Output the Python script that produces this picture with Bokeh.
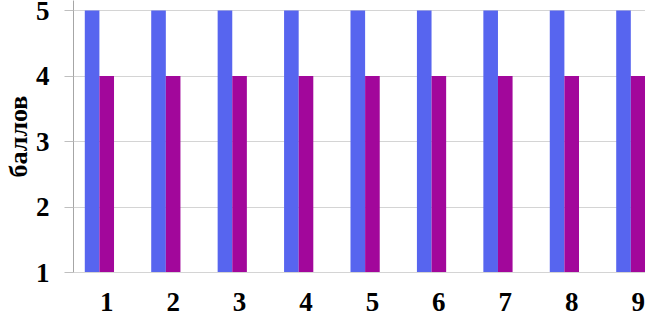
from bokeh.plotting import figure
from bokeh.models import ColumnDataSource, FixedTicker, Range1d
from bokeh.transform import dodge
from bokeh.embed import file_html
from bokeh.resources import INLINE

# data
categories = [1, 2, 3, 4, 5, 6, 7, 8, 9]
series_a = [5, 5, 5, 5, 5, 5, 5, 5, 5]
series_b = [4, 4, 4, 4, 4, 4, 4, 4, 4]
y_ticks = [1, 2, 3, 4, 5]
y_label = "баллов"

BLUE = "#5765EF"
PURPLE = "#A2079B"
FONT = "Liberation Serif"

src = ColumnDataSource(dict(x=categories, a=series_a, b=series_b))

p = figure(width=645, height=317, output_backend="svg", toolbar_location=None,
           x_range=Range1d(0.5, 9.111), y_range=Range1d(1, 5.153),
           min_border_left=72, min_border_right=0, min_border_top=0,
           min_border_bottom=45)
p.outline_line_color = None
p.background_fill_color = "white"
p.border_fill_color = "white"

bw = 0.22
p.vbar(x=dodge("x", -0.22, range=p.x_range), top="a", bottom=1, width=bw,
       source=src, fill_color=BLUE, line_color=None)
p.vbar(x=dodge("x", 0.0, range=p.x_range), top="b", bottom=1, width=bw,
       source=src, fill_color=PURPLE, line_color=None)

# grid
p.xgrid.grid_line_color = None
p.ygrid.grid_line_color = "#D4D4D4"
p.ygrid.grid_line_width = 1
p.ygrid.ticker = FixedTicker(ticks=y_ticks)

# y axis
ya = p.yaxis[0]
ya.ticker = FixedTicker(ticks=y_ticks)
ya.axis_line_color = "#A6A6A6"
ya.major_tick_line_color = "#BFBFBF"
ya.major_tick_in = 0
ya.major_tick_out = 9
ya.minor_tick_line_color = None
ya.major_label_standoff = 15
ya.major_label_text_font = FONT
ya.major_label_text_font_style = "bold"
ya.major_label_text_font_size = "27px"
ya.major_label_text_color = "black"
ya.axis_label = y_label
ya.axis_label_text_font = FONT
ya.axis_label_text_font_style = "bold"
ya.axis_label_text_font_size = "26px"
ya.axis_label_text_color = "black"
ya.axis_label_standoff = 0

# x axis
xa = p.xaxis[0]
xa.ticker = FixedTicker(ticks=categories)
xa.axis_line_color = "#D4D4D4"
xa.major_tick_line_color = None
xa.major_tick_in = 0
xa.major_tick_out = 0
xa.minor_tick_line_color = None
xa.major_label_standoff = 20
xa.major_label_text_font = FONT
xa.major_label_text_font_style = "bold"
xa.major_label_text_font_size = "27px"
xa.major_label_text_color = "black"

open("out.html", "w").write(file_html(p, INLINE))
